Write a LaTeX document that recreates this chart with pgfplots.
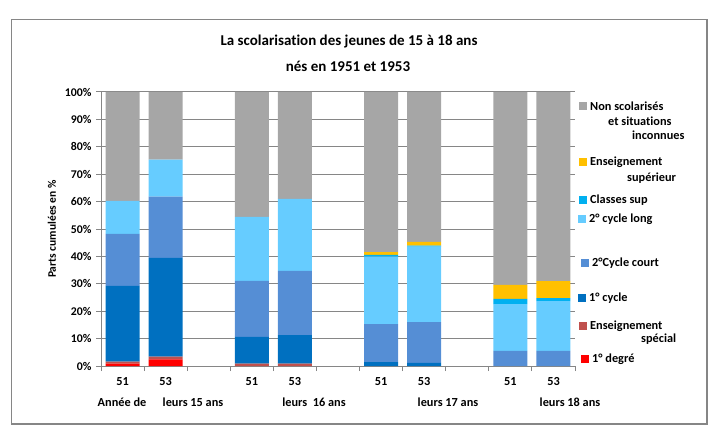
\documentclass[border=0pt]{standalone}
\usepackage{fontspec}
\setmainfont{Carlito}[Ligatures={NoCommon}]
\usepackage{pgfplots}
\pgfplotsset{compat=1.18}
\definecolor{cred}{HTML}{FF0000}
\definecolor{cbrown}{HTML}{C0504D}
\definecolor{cdark}{HTML}{0070C0}
\definecolor{cmid}{HTML}{558ED5}
\definecolor{clight}{HTML}{66CCFF}
\definecolor{ccyan}{HTML}{00B0F0}
\definecolor{corange}{HTML}{FFC000}
\definecolor{cgrey}{HTML}{A6A6A6}
\definecolor{axgray}{HTML}{868686}
\begin{document}
\begin{tikzpicture}[x=1pt,y=1pt,font=\fontsize{12.3}{14}\selectfont\bfseries]
\path[use as bounding box] (0,0) rectangle (720,437);
\draw[axgray,line width=1.3pt] (11.5,13) rectangle (707,417.5);
\begin{axis}[at={(101pt,71pt)},anchor=south west,scale only axis,
  width=474pt,height=274pt,
  xmin=-0.5,xmax=10.5,ymin=0,ymax=100,
  ybar stacked,bar width=34pt,
  axis lines*=left,
  axis line style={axgray,line width=1pt},
  ytick={0,10,...,100},
  yticklabels={0\%,10\%,20\%,30\%,40\%,50\%,60\%,70\%,80\%,90\%,100\%},
  xtick={-0.5,0.5,...,10.5},xticklabels={},
  tick align=outside,major tick length=5pt,
  tick style={axgray,line width=1pt},
  ymajorgrids,grid style={axgray,line width=1pt},
  yticklabel style={font=\fontsize{11.8}{13}\selectfont\bfseries,xshift=-1pt},
  clip=false,
]
\addplot[fill=cred,draw=none] coordinates {(0,0.85) (1,2.4) (3,0) (4,0) (6,0) (7,0) (9,0) (10,0)};
\addplot[fill=cbrown,draw=none] coordinates {(0,0.75) (1,1.0) (3,0.85) (4,0.85) (6,0) (7,0) (9,0) (10,0)};
\addplot[fill=cdark,draw=none] coordinates {(0,27.6) (1,36.1) (3,9.75) (4,10.45) (6,1.46) (7,1.1) (9,0) (10,0)};
\addplot[fill=cmid,draw=none] coordinates {(0,19.0) (1,22.3) (3,20.5) (4,23.4) (6,13.84) (7,14.9) (9,5.5) (10,5.5)};
\addplot[fill=clight,draw=none] coordinates {(0,12.1) (1,13.5) (3,23.3) (4,26.3) (6,24.6) (7,27.6) (9,17.1) (10,18.2)};
\addplot[fill=ccyan,draw=none] coordinates {(0,0) (1,0) (3,0) (4,0) (6,0.7) (7,0.3) (9,1.9) (10,1.1)};
\addplot[fill=corange,draw=none] coordinates {(0,0) (1,0) (3,0) (4,0) (6,1.0) (7,1.4) (9,5.1) (10,6.2)};
\addplot[fill=cgrey,draw=none] coordinates {(0,39.7) (1,24.7) (3,45.6) (4,39.0) (6,58.4) (7,54.7) (9,70.4) (10,69.0)};
\end{axis}
% y label
\node[rotate=90,font=\fontsize{11.5}{13}\selectfont\bfseries] at (52,208) {Parts cumulées en \%};
% x labels
\foreach \x in {122.5,251.8,381.1,510.4} \node at (\x,55) {51};
\foreach \x in {165.6,294.9,424.2,553.5} \node at (\x,55) {53};
\node at (122,35) {Année de};
\node at (193,35) {leurs 15 ans};
\node at (314,35) {leurs\ \ 16 ans};
\node at (448,35) {leurs 17 ans};
\node at (570,35) {leurs 18 ans};
% title
\node[font=\fontsize{15}{18}\selectfont\bfseries] at (349,395) {La scolarisation des jeunes de 15 à 18 ans};
\node[font=\fontsize{15}{18}\selectfont\bfseries] at (348,371) {nés en 1951 et 1953};
% legend
\begin{scope}[every node/.style={anchor=west,inner sep=0pt}]
\fill[cgrey] (579,327) rectangle (587,335);
\node at (590,331) {Non scolarisés};
\node at (608,316) {et situations};
\node at (632,302) {inconnues};
\fill[corange] (579,271) rectangle (587,279);
\node at (590,275) {Enseignement};
\node at (627,259) {supérieur};
\fill[ccyan] (579,233) rectangle (587,241);
\node at (590,237) {Classes sup};
\fill[clight] (578,214) rectangle (586,222);
\node at (589,218) {2° cycle long};
\fill[cmid] (581,170) rectangle (589,178);
\node at (592,174) {2°Cycle court};
\fill[cdark] (578,135) rectangle (586,143);
\node at (589,139) {1° cycle};
\fill[cbrown] (579,107) rectangle (587,115);
\node at (590,111) {Enseignement};
\node at (641,98) {spécial};
\fill[cred] (581,74) rectangle (589,82);
\node at (592,78) {1° degré};
\end{scope}
\end{tikzpicture}
\end{document}
